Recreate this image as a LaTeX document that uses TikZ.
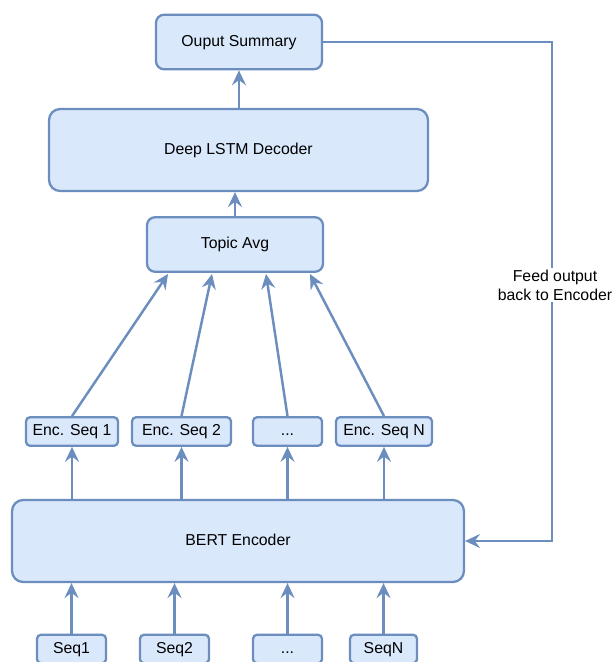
\documentclass[tikz,border=0pt]{standalone}
\usepackage{fontspec}
\setmainfont{Liberation Sans}
\usetikzlibrary{arrows.meta}
\definecolor{boxfill}{RGB}{218, 232, 252}
\definecolor{boxline}{RGB}{108, 142, 191}

\tikzset{
    box/.style   = {draw=boxline, fill=boxfill, line width=1.3pt, inner sep=0pt,
                    text height=6.6pt, text depth=1.9pt,
                    font=\fontsize{9}{10.8}\selectfont},
    bigbox/.style   = {box, rounded corners=0.22cm, minimum height=1.64cm},
    midbox/.style   = {box, rounded corners=0.16cm, minimum height=1.09cm},
    smallbox/.style = {box, rounded corners=0.08cm, minimum height=0.57cm},
    arr/.style   = {draw=boxline, line width=1.4pt,
                    -{Stealth[length=8.5pt, width=8pt, inset=3pt]}},
}

\begin{document}
\begin{tikzpicture}[x=0.02cm, y=-0.02cm]
    \useasboundingbox (0,0) rectangle (614,662);

    % decoder side
    \node[midbox, minimum width=3.32cm] (summary) at (239, 42)    {Ouput Summary};
    \node[bigbox, minimum width=7.58cm] (decoder) at (238.5, 150) {Deep LSTM Decoder};
    \node[midbox, minimum width=3.52cm] (topic)   at (235, 244.5) {Topic Avg};

    % encoded sequences
    \node[smallbox, minimum width=1.84cm] (enc1)    at (72, 431.5)    {Enc. Seq 1};
    \node[smallbox, minimum width=1.98cm] (enc2)    at (181.5, 431.5) {Enc. Seq 2};
    \node[smallbox, minimum width=1.38cm] (encdots) at (287.5, 431.5) {...};
    \node[smallbox, minimum width=1.92cm] (encN)    at (384, 431.5)   {Enc. Seq N};

    \node[bigbox, minimum width=9.04cm] (bert) at (238, 541) {BERT Encoder};

    % input sequences
    \node[smallbox, minimum width=1.38cm] (seq1)    at (71.5, 649)  {Seq1};
    \node[smallbox, minimum width=1.38cm] (seq2)    at (174.5, 649) {Seq2};
    \node[smallbox, minimum width=1.38cm] (seqdots) at (287.5, 649) {...};
    \node[smallbox, minimum width=1.34cm] (seqN)    at (383.5, 649) {SeqN};

    % where the encodings meet the average
    \coordinate (avg1) at (168, 274);
    \coordinate (avg2) at (212, 274);
    \coordinate (avg3) at (266, 274);
    \coordinate (avg4) at (310, 274);
    \coordinate (fbtop) at (552, 42);

    \draw[arr] (decoder.north -| summary) -- (summary.south);
    \draw[arr] (topic.north) -- (topic.north |- decoder.south);

    \draw[arr] (enc1.north)    -- (avg1);
    \draw[arr] (enc2.north)    -- (avg2);
    \draw[arr] (encdots.north) -- (avg3);
    \draw[arr] (encN.north)    -- (avg4);

    \draw[arr] (bert.north -| enc1)    -- (enc1.south);
    \draw[arr] (bert.north -| enc2)    -- (enc2.south);
    \draw[arr] (bert.north -| encdots) -- (encdots.south);
    \draw[arr] (bert.north -| encN)    -- (encN.south);

    \draw[arr] (seq1.north)    -- (seq1.north |- bert.south);
    \draw[arr] (seq2.north)    -- (seq2.north |- bert.south);
    \draw[arr] (seqdots.north) -- (seqdots.north |- bert.south);
    \draw[arr] (seqN.north)    -- (seqN.north |- bert.south);

    % feedback loop
    \draw[arr] (summary.east) -- (fbtop) -- (fbtop |- bert.east) -- (bert.east);
    \node[fill=white, align=center, inner sep=1pt,
          font=\fontsize{9}{10.8}\selectfont] (fblabel) at (555, 285)
        {Feed output\\back to Encoder};
\end{tikzpicture}
\end{document}
